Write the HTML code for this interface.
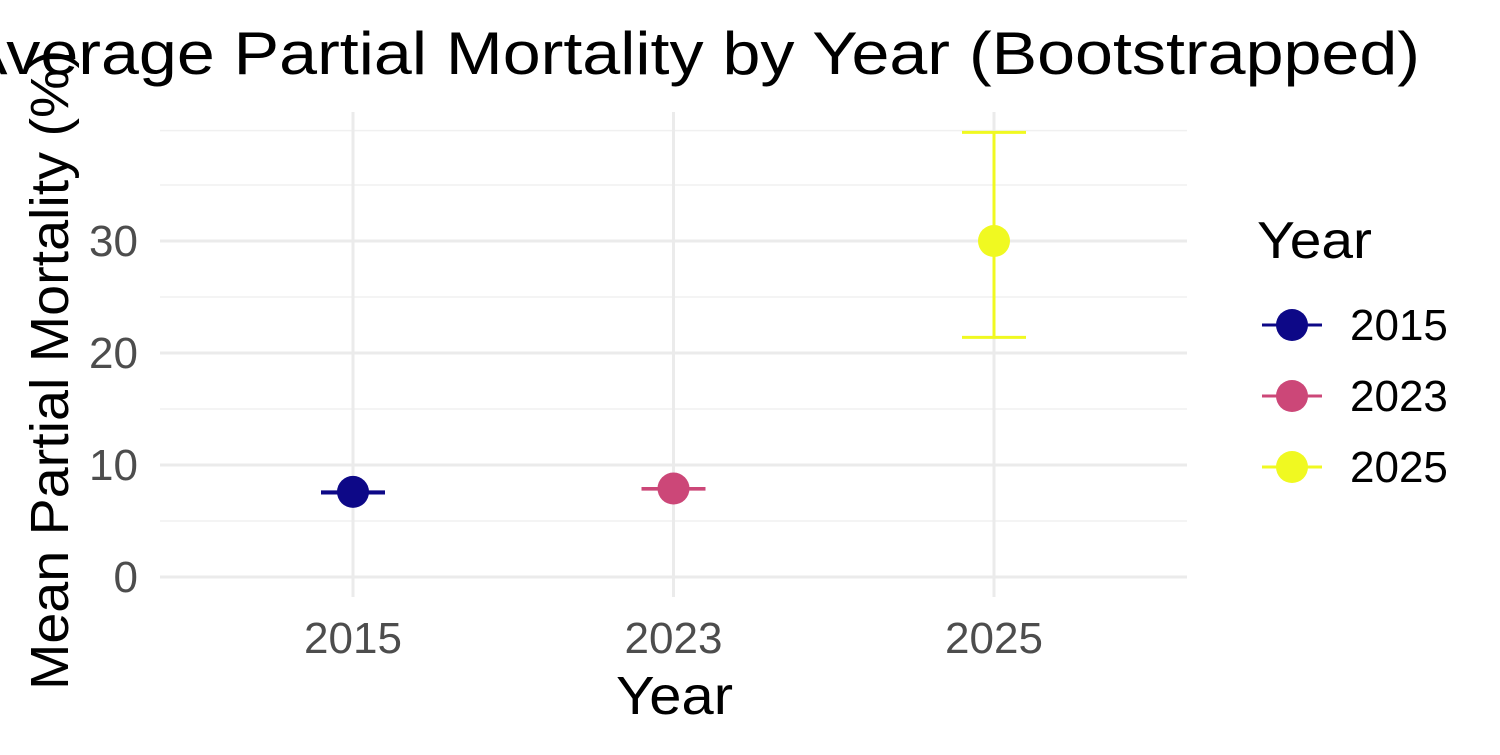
<!DOCTYPE html>
<html><head><meta charset="utf-8"><style>
html,body{margin:0;padding:0;background:#fff;overflow:hidden}
text{font-family:"Liberation Sans",Arial,sans-serif}
</style></head><body>
<svg id="chart" width="1500" height="750" xmlns="http://www.w3.org/2000/svg">
<text x="-38" y="74" font-size="60" textLength="1458" lengthAdjust="spacingAndGlyphs" fill="#000">Average Partial Mortality by Year (Bootstrapped)</text>
<g id="grid"></g>
<g id="marks"></g>
<text transform="translate(68,690) rotate(-90)" font-size="54" textLength="640" lengthAdjust="spacingAndGlyphs" fill="#000">Mean Partial Mortality (%)</text>
<text x="616" y="714" font-size="54" textLength="117" lengthAdjust="spacingAndGlyphs" fill="#000">Year</text>
<g id="legend">
<text x="1257" y="258" font-size="52" textLength="115" lengthAdjust="spacingAndGlyphs" fill="#000">Year</text>
</g>
</svg>
<script>
const categories = ["2015","2023","2025"];
const means = [7.6, 7.9, 30.0];
const lowers = [7.5, 7.85, 21.4];
const uppers = [7.6, 7.9, 39.7];
const colors = ["#0d0887","#cc4778","#f0f921"];
const yTicks = [0,10,20,30];
const yMinor = [5,15,25,35,39.85];
const NS="http://www.w3.org/2000/svg";
const y = v => 577 - v*11.2;
const x = i => 353 + i*320.5;
function mk(tag, attrs, parent){const e=document.createElementNS(NS,tag);for(const k in attrs)e.setAttribute(k,attrs[k]);parent.appendChild(e);return e;}
const grid=document.getElementById('grid'), marks=document.getElementById('marks'), legend=document.getElementById('legend');
yMinor.forEach(v=>{const l=mk('line',{x1:160,x2:1187,y1:y(v),y2:y(v),stroke:'#f0f0f0','stroke-width':1.5},grid);

});
yTicks.forEach(v=>{const l=mk('line',{x1:160,x2:1187,y1:y(v),y2:y(v),stroke:'#ebebeb','stroke-width':3},grid);


const t=mk('text',{x:138,y:y(v)+15,'font-size':44,'text-anchor':'end',fill:'#4d4d4d'},grid);t.textContent=v;

});
categories.forEach((c,i)=>{const l=mk('line',{x1:x(i),x2:x(i),y1:112,y2:597,stroke:'#ebebeb','stroke-width':3},grid);


const t=mk('text',{x:x(i),y:653,'font-size':44,'text-anchor':'middle',fill:'#4d4d4d'},grid);t.textContent=c;


const g=mk('g',{},marks);


const st={stroke:colors[i],'stroke-width':3};
mk('line',Object.assign({x1:x(i),x2:x(i),y1:y(uppers[i]),y2:y(lowers[i])},st),g);
mk('line',Object.assign({x1:x(i)-32,x2:x(i)+32,y1:y(uppers[i]),y2:y(uppers[i])},st),g);
mk('line',Object.assign({x1:x(i)-32,x2:x(i)+32,y1:y(lowers[i]),y2:y(lowers[i])},st),g);
const p=mk('circle',{cx:x(i),cy:y(means[i]),r:16,fill:colors[i]},marks);


const ly=325+i*71;
const lg=mk('g',{},legend);


mk('line',{x1:1262,x2:1322,y1:ly,y2:ly,stroke:colors[i],'stroke-width':3},lg);
mk('circle',{cx:1292,cy:ly,r:16,fill:colors[i]},lg);
const lt=mk('text',{x:1350,y:ly+15,'font-size':44,fill:'#000'},lg);lt.textContent=c;
});
</script>
</body></html>
